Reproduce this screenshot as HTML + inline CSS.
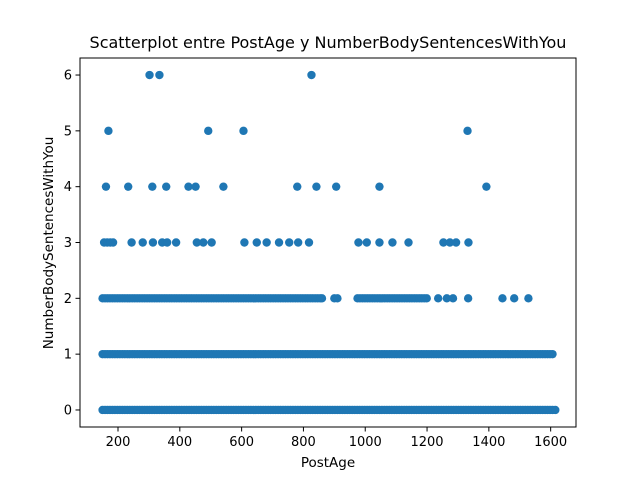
<!DOCTYPE html>
<html><head><meta charset="utf-8"><style>
body{margin:0;background:#fff;font-family:"DejaVu Sans","Liberation Sans",sans-serif}
svg text{font-family:"DejaVu Sans","Liberation Sans",sans-serif}
</style></head><body>
<svg id="chart" width="640" height="480" xmlns="http://www.w3.org/2000/svg">
<rect width="640" height="480" fill="#fff"/>
<text x="328" y="48" font-size="16" text-anchor="middle">Scatterplot entre PostAge y NumberBodySentencesWithYou</text>
<g id="marks"></g>
<g id="axes"></g>
<text x="328" y="467" font-size="13.5" text-anchor="middle">PostAge</text>
<text transform="translate(53,243) rotate(-90)" font-size="13.5" text-anchor="middle">NumberBodySentencesWithYou</text>
</svg>
<script>
const row0X=[150,158,166,174,182,190,198,206,214,222,230,238,246,254,262,270,278,286,294,302,310,318,326,334,342,350,358,366,374,382,390,398,406,414,422,430,438,446,454,462,470,478,486,494,502,510,518,526,534,542,550,558,566,574,582,590,598,606,614,622,630,638,646,654,662,670,678,686,694,702,710,718,726,734,742,750,758,766,774,782,790,798,806,814,822,830,838,846,854,862,870,878,886,894,902,910,918,926,934,942,950,958,966,974,982,990,998,1006,1014,1022,1030,1038,1046,1054,1062,1070,1078,1086,1094,1102,1110,1118,1126,1134,1142,1150,1158,1166,1174,1182,1190,1198,1206,1214,1222,1230,1238,1246,1254,1262,1270,1278,1286,1294,1302,1310,1318,1326,1334,1342,1350,1358,1366,1374,1382,1390,1398,1406,1414,1422,1430,1438,1446,1454,1462,1470,1478,1486,1494,1502,1510,1518,1526,1534,1542,1550,1558,1566,1574,1582,1590,1598,1606,1615];
const row1X=[150,158,166,174,182,190,198,206,214,222,230,238,246,254,262,270,278,286,294,302,310,318,326,334,342,350,358,366,374,382,390,398,406,414,422,430,438,446,454,462,470,478,486,494,502,510,518,526,534,542,550,558,566,574,582,590,598,606,614,622,630,638,646,654,662,670,678,686,694,702,710,718,726,734,742,750,758,766,774,782,790,798,806,814,822,830,838,846,854,862,870,878,886,894,902,910,918,926,934,942,950,958,966,974,982,990,998,1006,1014,1022,1030,1038,1046,1054,1062,1070,1078,1086,1094,1102,1110,1118,1126,1134,1142,1150,1158,1166,1174,1182,1190,1198,1206,1214,1222,1230,1238,1246,1254,1262,1270,1278,1286,1294,1302,1310,1318,1326,1334,1342,1350,1358,1366,1374,1382,1390,1398,1406,1414,1422,1430,1438,1446,1454,1462,1470,1478,1486,1494,1502,1510,1518,1526,1534,1542,1550,1558,1566,1574,1582,1590,1598,1606];
const row2X=[150,158,166,174,182,190,198,206,214,222,230,238,246,254,262,270,278,286,294,302,310,318,326,334,342,350,358,366,374,382,390,398,406,414,422,430,438,446,454,462,470,478,486,494,502,510,518,526,534,542,550,558,566,574,582,590,598,606,614,622,630,638,646,654,662,670,678,686,694,702,710,718,726,734,742,750,758,766,774,782,790,798,806,814,822,830,838,846,854,860,900,910,975,983,991,999,1007,1015,1023,1031,1039,1047,1055,1063,1071,1079,1087,1095,1103,1111,1119,1127,1135,1143,1151,1159,1167,1175,1183,1191,1199,1236,1264,1284,1333,1444,1482,1528];
const row3X=[155,165,175,184,244,280,313,343,359,388,455,476,503,609,649,681,721,754,783,818,978,1005,1046,1088,1140,1253,1274,1294,1334];
const row4X=[161,233,311,356,428,451,541,780,842,906,1046,1392];
const row5X=[169,492,606,1331];
const row6X=[302,334,826];
const rowsX=[row0X,row1X,row2X,row3X,row4X,row5X,row6X];
const xTicks=[200,400,600,800,1000,1200,1400,1600];
const yTicks=[0,1,2,3,4,5,6];
const L=80,R=576,T=58,B=427;
const X0=77,X1=1682,Y0=-0.305,Y1=6.305;
const sx=v=>L+(v-X0)/(X1-X0)*(R-L);
const sy=v=>B-(v-Y0)/(Y1-Y0)*(B-T);
const NS="http://www.w3.org/2000/svg";
const marks=document.getElementById('marks');
rowsX.forEach((arr,yv)=>arr.forEach(xv=>{
 const c=document.createElementNS(NS,'circle');
 
 
 c.setAttribute('cx',sx(xv));c.setAttribute('cy',sy(yv));c.setAttribute('r',4.2);c.setAttribute('fill','#1f77b4');
 marks.appendChild(c);
}));
const axes=document.getElementById('axes');
const fr=document.createElementNS(NS,'rect');


fr.setAttribute('x',L);fr.setAttribute('y',T);fr.setAttribute('width',R-L);fr.setAttribute('height',B-T);fr.setAttribute('fill','none');fr.setAttribute('stroke','#000');fr.setAttribute('stroke-width','1');
axes.appendChild(fr);
xTicks.forEach(t=>{
 const x=sx(t);
 const l=document.createElementNS(NS,'line');
 
 
 l.setAttribute('x1',x);l.setAttribute('x2',x);l.setAttribute('y1',B);l.setAttribute('y2',B+4.5);l.setAttribute('stroke','#000');
 axes.appendChild(l);
 const tx=document.createElementNS(NS,'text');
 
 
 tx.setAttribute('x',x);tx.setAttribute('y',B+19);tx.setAttribute('font-size','13');tx.setAttribute('text-anchor','middle');tx.textContent=t;
 axes.appendChild(tx);
});
yTicks.forEach(t=>{
 const y=sy(t);
 const l=document.createElementNS(NS,'line');
 
 
 l.setAttribute('x1',L-4.5);l.setAttribute('x2',L);l.setAttribute('y1',y);l.setAttribute('y2',y);l.setAttribute('stroke','#000');
 axes.appendChild(l);
 const tx=document.createElementNS(NS,'text');
 
 
 tx.setAttribute('x',L-8);tx.setAttribute('y',y+4.5);tx.setAttribute('font-size','13');tx.setAttribute('text-anchor','end');tx.textContent=t;
 axes.appendChild(tx);
});
</script>
</body></html>
